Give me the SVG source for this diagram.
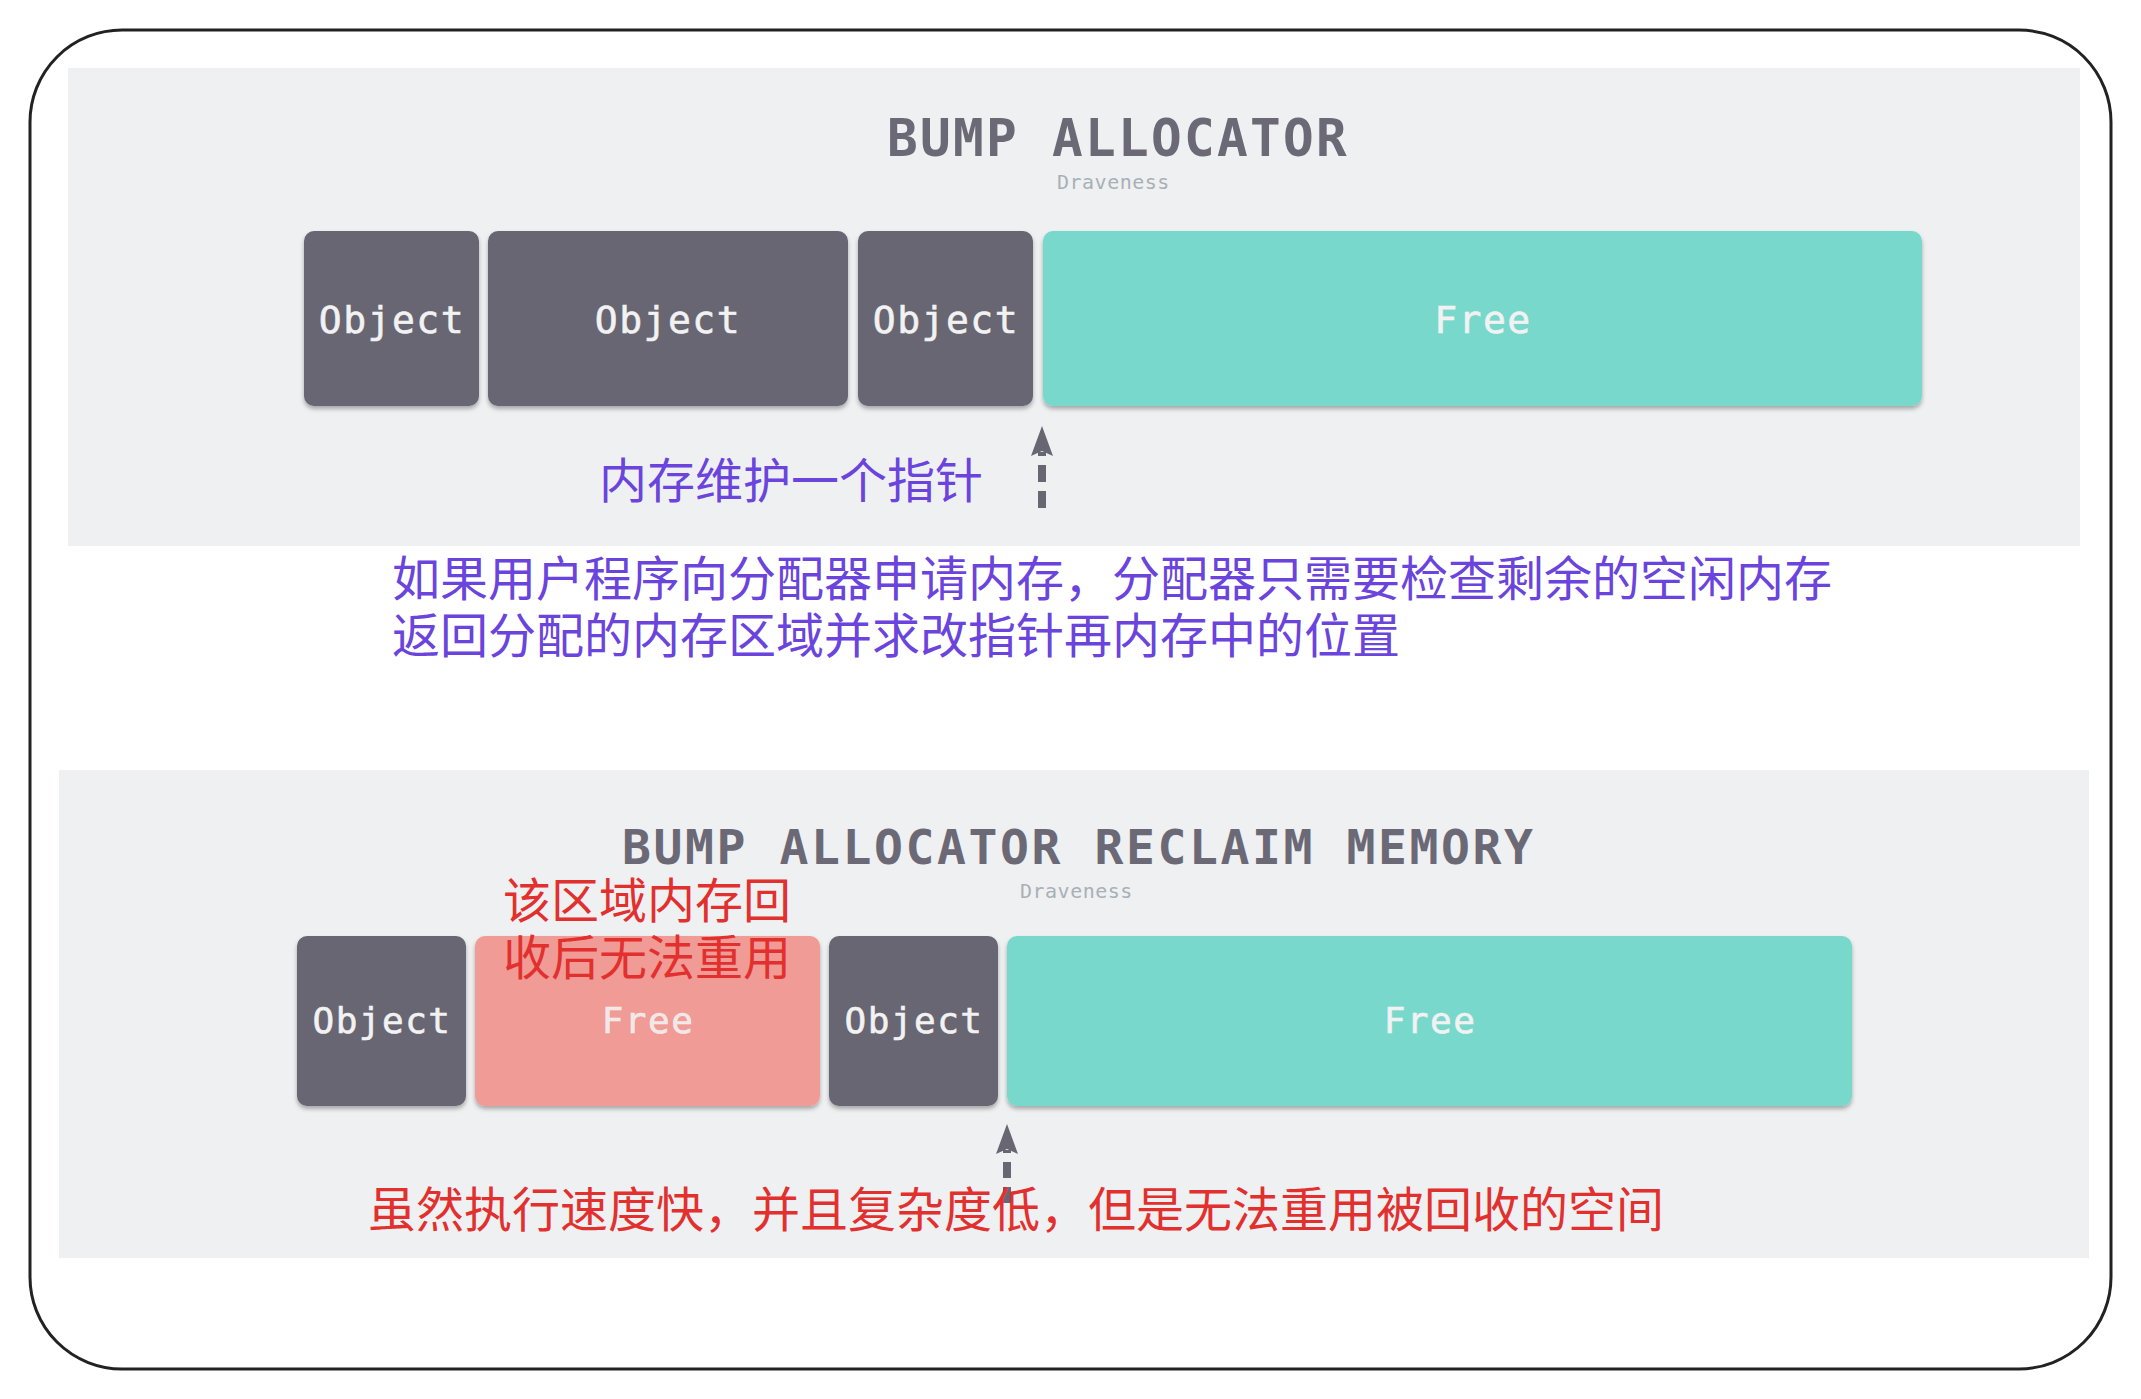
<svg xmlns="http://www.w3.org/2000/svg" width="2141" height="1399" viewBox="0 0 2141 1399">
<style>
.panel{fill:#eff0f2}
.obj{fill:#686672}
.free{fill:#79d8cc}
.reclaimed{fill:#f09b95}
.blk{filter:url(#sh)}
.lbl{font-family:"DejaVu Sans Mono","Liberation Mono",monospace;fill:#f2f2f2;stroke:#f2f2f2;stroke-width:0.6;text-anchor:middle;letter-spacing:1.5px}
.title{font-family:"DejaVu Sans Mono","Liberation Mono",monospace;fill:#6b6975;font-weight:bold}
.sub{font-family:"DejaVu Sans Mono","Liberation Mono",monospace;fill:#a8b0b6;font-size:20px;letter-spacing:0.5px}
.cn{font-family:"Noto Sans CJK SC","Noto Sans CJK JP",sans-serif;font-size:48px}
.purple{fill:#6a44dd}
.red{fill:#e2302f}
.arrow{stroke:#686672;stroke-width:8;fill:none}
</style>
<defs>
<filter id="sh" x="-10%" y="-10%" width="120%" height="130%">
<feDropShadow dx="0" dy="3" stdDeviation="2" flood-color="#000" flood-opacity="0.3"/>
</filter>
<marker id="ah" viewBox="0 0 30 22" refX="4" refY="11" markerWidth="30" markerHeight="22" markerUnits="userSpaceOnUse" orient="auto">
<path d="M0,0 L30,11 L0,22 L5,11 z" fill="#686672"/>
</marker>
</defs>
<rect x="30" y="30" width="2081" height="1339" rx="92" ry="92" fill="#ffffff" stroke="#222222" stroke-width="3"/>
<rect class="panel" x="68" y="68" width="2012" height="478"/>
<rect class="panel" x="59" y="770" width="2030" height="488"/>

<g id="title-top">
<text class="title" x="887" y="156" font-size="51" letter-spacing="2.3">BUMP ALLOCATOR</text>
<text class="sub" x="1057" y="189">Draveness</text>
</g>

<g id="top-obj1"><rect class="obj blk" x="304" y="231" width="175" height="175" rx="10"/><text class="lbl" x="392" y="333" font-size="38">Object</text></g>
<g id="top-obj2"><rect class="obj blk" x="488" y="231" width="360" height="175" rx="10"/><text class="lbl" x="668" y="333" font-size="38">Object</text></g>
<g id="top-obj3"><rect class="obj blk" x="858" y="231" width="175" height="175" rx="10"/><text class="lbl" x="946" y="333" font-size="38">Object</text></g>
<g id="top-free"><rect class="free blk" x="1043" y="231" width="879" height="175" rx="10"/><text class="lbl" x="1483" y="333" font-size="38">Free</text></g>

<g id="title-bottom">
<text class="title" x="622" y="864" font-size="48" letter-spacing="2.6">BUMP ALLOCATOR RECLAIM MEMORY</text>
<text class="sub" x="1020" y="898">Draveness</text>
</g>

<g id="bot-obj1"><rect class="obj blk" x="297" y="936" width="169" height="170" rx="10"/><text class="lbl" x="382" y="1033" font-size="36">Object</text></g>
<g id="bot-reclaimed"><rect class="reclaimed blk" x="475" y="936" width="345" height="170" rx="10"/><text class="lbl" x="648" y="1033" font-size="36" fill-opacity="0.9" stroke-opacity="0.9">Free</text></g>
<g id="bot-obj2"><rect class="obj blk" x="829" y="936" width="169" height="170" rx="10"/><text class="lbl" x="914" y="1033" font-size="36">Object</text></g>
<g id="bot-free"><rect class="free blk" x="1007" y="936" width="845" height="170" rx="10"/><text class="lbl" x="1430" y="1033" font-size="36">Free</text></g>

<g id="connectors">
<line class="arrow" x1="1042" y1="508" x2="1042" y2="452" stroke-dasharray="17 9" marker-end="url(#ah)"/>
<line class="arrow" x1="1007" y1="1203" x2="1007" y2="1150" stroke-dasharray="16 9" marker-end="url(#ah)"/>
</g>

<g id="notes">
<text class="cn purple" x="599" y="498">内存维护一个指针</text>
<text class="cn purple" x="392" y="596">如果用户程序向分配器申请内存，分配器只需要检查剩余的空闲内存</text>
<text class="cn purple" x="392" y="653">返回分配的内存区域并求改指针再内存中的位置</text>
<text class="cn red" x="503" y="918">该区域内存回</text>
<text class="cn red" x="503" y="975">收后无法重用</text>
<text class="cn red" x="368" y="1227">虽然执行速度快，并且复杂度低，但是无法重用被回收的空间</text>
</g>
</svg>
